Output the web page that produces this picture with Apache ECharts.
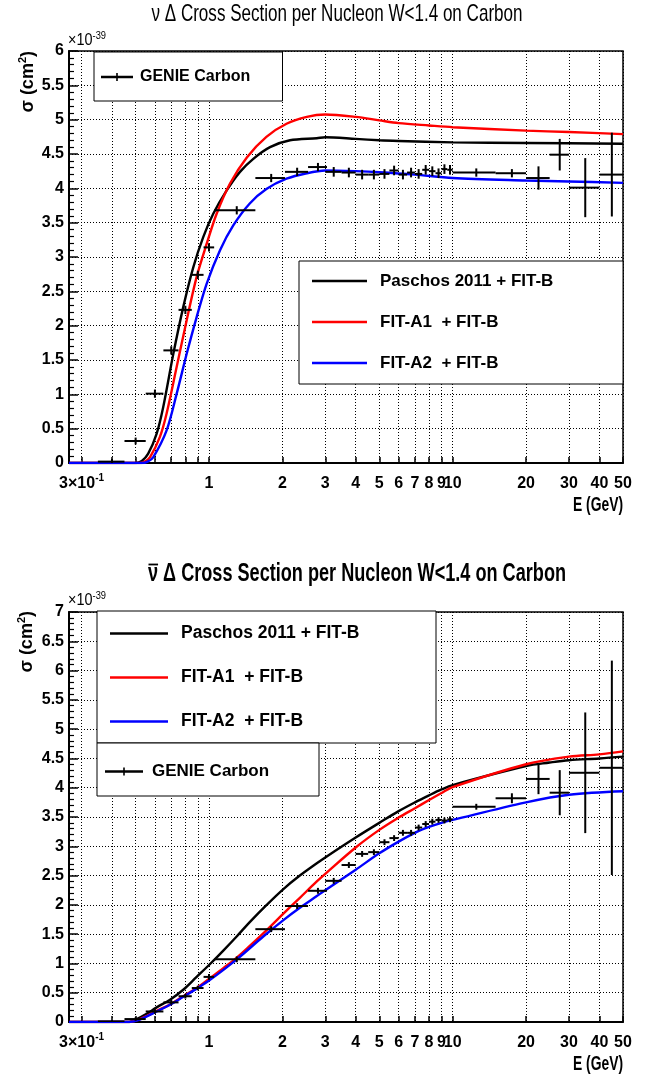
<!DOCTYPE html>
<html>
<head>
<meta charset="utf-8">
<script src="https://cdn.jsdelivr.net/npm/echarts@6/dist/echarts.min.js"></script>
<style>
  html, body { margin: 0; padding: 0; background: #fff; }
  #chart { width: 656px; height: 1077px; }
</style>
</head>
<body>
<div id="chart"></div>
<script>
// ---------- axis ticks ----------
const E_MIN = 0.2664, E_MAX = 50;
const xTickValues = [0.3, 0.4, 0.5, 0.6, 0.7, 0.8, 0.9, 1, 2, 3, 4, 5, 6, 7, 8, 9, 10, 20, 30, 40, 50];
const xLabelValues = [0.3, 1, 2, 3, 4, 5, 6, 7, 8, 9, 10, 20, 30, 40, 50];

// ---------- neutrino: model curves (E in GeV, sigma in 1e-39 cm^2) ----------
const nuPaschosE  = [0.2664, 0.5, 0.53, 0.563, 0.61, 0.649, 0.714, 0.784, 0.862, 0.947, 1.041, 1.182, 1.34, 1.52, 1.78, 2.15, 2.77, 3.0, 4.0, 5.0, 6.0, 10, 20, 50];
const nuPaschosXs = [0, 0, 0.03, 0.137, 0.428, 0.815, 1.59, 2.27, 2.85, 3.29, 3.63, 3.97, 4.24, 4.43, 4.60, 4.70, 4.73, 4.745, 4.72, 4.70, 4.69, 4.67, 4.66, 4.65];

const nuFitA1E  = [0.2664, 0.52, 0.545, 0.573, 0.629, 0.67, 0.737, 0.81, 0.89, 0.978, 1.075, 1.22, 1.43, 1.72, 2.08, 2.52, 3.0, 4.0, 5.0, 6.0, 8.0, 10, 20, 30, 50];
const nuFitA1Xs = [0, 0, 0.02, 0.087, 0.38, 0.72, 1.40, 2.08, 2.71, 3.19, 3.63, 4.07, 4.45, 4.75, 4.94, 5.04, 5.075, 5.04, 4.99, 4.95, 4.915, 4.89, 4.84, 4.82, 4.79];

const nuFitA2E  = [0.2664, 0.53, 0.56, 0.591, 0.67, 0.737, 0.81, 0.89, 0.978, 1.11, 1.258, 1.47, 1.72, 2.08, 2.52, 3.0, 4.0, 5.0, 7.0, 10, 20, 30, 50];
const nuFitA2Xs = [0, 0, 0.02, 0.087, 0.476, 1.01, 1.59, 2.125, 2.61, 3.10, 3.46, 3.78, 3.99, 4.14, 4.22, 4.26, 4.25, 4.235, 4.20, 4.15, 4.115, 4.10, 4.08];

// ---------- antineutrino: model curves ----------
const nbPaschosE  = [0.2664, 0.47, 0.505, 0.555, 0.61, 0.692, 0.784, 0.89, 1.01, 1.145, 1.299, 1.473, 1.725, 2.02, 2.36, 2.77, 3, 4, 5, 6, 7, 8, 9, 10, 20, 25, 30, 40, 50];
const nbPaschosXs = [0, 0, 0.05, 0.14, 0.25, 0.38, 0.55, 0.77, 0.99, 1.22, 1.46, 1.71, 2.0, 2.27, 2.50, 2.71, 2.81, 3.15, 3.40, 3.60, 3.75, 3.87, 3.97, 4.045, 4.37, 4.43, 4.47, 4.50, 4.53];

const nbFitA1E  = [0.2664, 0.47, 0.52, 0.61, 0.692, 0.784, 0.89, 1.01, 1.145, 1.3, 1.47, 1.725, 2.02, 2.36, 2.77, 3, 4, 5, 6, 7, 8, 9, 10, 20, 30, 40, 50];
const nbFitA1Xs = [0, 0, 0.05, 0.19, 0.30, 0.44, 0.58, 0.75, 0.92, 1.10, 1.30, 1.57, 1.85, 2.12, 2.40, 2.53, 2.98, 3.28, 3.49, 3.65, 3.79, 3.91, 4.01, 4.40, 4.53, 4.57, 4.62];

const nbFitA2E  = [0.2664, 0.47, 0.52, 0.61, 0.692, 0.784, 0.89, 1.01, 1.3, 1.67, 2.02, 2.36, 2.77, 3, 4, 5, 6, 7, 8, 9, 10, 20, 30, 50];
const nbFitA2Xs = [0, 0, 0.04, 0.18, 0.295, 0.43, 0.57, 0.72, 1.07, 1.46, 1.74, 1.95, 2.15, 2.25, 2.60, 2.88, 3.08, 3.23, 3.33, 3.40, 3.45, 3.75, 3.88, 3.94];

// ---------- GENIE Carbon histograms (bin centre, half width, value, error) ----------
const genieE = [0.4, 0.5, 0.6, 0.7, 0.8, 0.9, 1.0, 1.3, 1.8, 2.3, 2.8,
  3.25, 3.75, 4.25, 4.75, 5.25, 5.75, 6.25, 6.75, 7.25, 7.75, 8.25, 8.75, 9.25, 9.75,
  12.5, 17.5, 22.5, 27.5, 35, 45];
const genieHalfWidth = [0.05, 0.05, 0.05, 0.05, 0.05, 0.05, 0.05, 0.25, 0.25, 0.25, 0.25,
  0.25, 0.25, 0.25, 0.25, 0.25, 0.25, 0.25, 0.25, 0.25, 0.25, 0.25, 0.25, 0.25, 0.25,
  2.5, 2.5, 2.5, 2.5, 5, 5];
const nuGenieXs = [0.02, 0.32, 1.01, 1.64, 2.23, 2.74, 3.14, 3.68, 4.15, 4.24, 4.31,
  4.24, 4.23, 4.20, 4.20, 4.21, 4.26, 4.20, 4.23, 4.21, 4.27, 4.25, 4.22, 4.28, 4.27,
  4.23, 4.22, 4.15, 4.49, 4.01, 4.20];
const nuGenieErr = [0.04, 0.05, 0.06, 0.06, 0.06, 0.06, 0.06, 0.06, 0.06, 0.06, 0.06,
  0.07, 0.07, 0.07, 0.07, 0.07, 0.07, 0.07, 0.07, 0.07, 0.07, 0.07, 0.07, 0.07, 0.07,
  0.06, 0.06, 0.17, 0.23, 0.43, 0.61];
const nbGenieXs = [0.01, 0.05, 0.18, 0.335, 0.44, 0.58, 0.77, 1.07, 1.585, 1.98, 2.24,
  2.41, 2.68, 2.87, 2.90, 3.07, 3.14, 3.23, 3.23, 3.32, 3.38, 3.42, 3.45, 3.44, 3.46,
  3.675, 3.82, 4.15, 3.915, 4.255, 4.34];
const nbGenieErr = [0.02, 0.03, 0.04, 0.04, 0.04, 0.04, 0.05, 0.05, 0.05, 0.05, 0.05,
  0.05, 0.05, 0.05, 0.05, 0.05, 0.05, 0.05, 0.05, 0.05, 0.05, 0.05, 0.05, 0.05, 0.05,
  0.05, 0.085, 0.26, 0.385, 1.03, 1.83];

// ---------- styling ----------
const FONT = '"Liberation Sans", Arial, Helvetica, sans-serif';
const BLACK = '#000000', RED = '#ff0000', BLUE = '#0000ff';
const NAME_PASCHOS = 'Paschos 2011 + FIT-B';
const NAME_A1 = 'FIT-A1  + FIT-B';
const NAME_A2 = 'FIT-A2  + FIT-B';
const NAME_GENIE = 'GENIE Carbon';
const TITLE_NU = 'ν Δ Cross Section per Nucleon W<1.4 on Carbon';
const TITLE_NUBAR = 'ν Δ Cross Section per Nucleon W<1.4 on Carbon';

const measureCtx = document.createElement('canvas').getContext('2d');
function textWidth(text, font) { measureCtx.font = font; return measureCtx.measureText(text).width; }
function boldFont(size) { return 'bold ' + size + 'px ' + FONT; }

function pairs(xs, ys) { return xs.map((x, i) => [x, ys[i]]); }
function genieData(ys, errs) {
  return genieE.map((e, i) => [e, ys[i], genieHalfWidth[i], errs[i]]);
}

function xLabelFormatter(v) {
  if (Math.abs(v - 0.3) < 1e-6) return '{m|3×10}{s|-1}';
  return '{m|' + Math.round(v) + '}';
}

function xAxisFor(gridIndex) {
  return {
    type: 'log', logBase: 10, gridIndex, min: E_MIN, max: E_MAX,
    axisLine: { show: true, onZero: false, lineStyle: { color: BLACK, width: 2 } },
    axisTick: { show: true, inside: true, length: 6, customValues: xTickValues,
                lineStyle: { color: BLACK, width: 1.5 } },
    minorTick: { show: false },
    axisLabel: {
      show: true, customValues: xLabelValues, margin: 10, color: BLACK,
      formatter: xLabelFormatter,
      rich: {
        m: { fontFamily: FONT, fontWeight: 'bold', fontSize: 16, lineHeight: 19, color: BLACK, verticalAlign: 'bottom' },
        s: { fontFamily: FONT, fontWeight: 'bold', fontSize: 10, lineHeight: 10, color: BLACK, verticalAlign: 'top' }
      }
    },
    splitLine: { show: true, lineStyle: { color: BLACK, width: 1, type: [1, 2] } },
    minorSplitLine: { show: false }
  };
}

function yAxisFor(gridIndex, max) {
  return {
    type: 'value', gridIndex, min: 0, max, interval: 0.5,
    axisLine: { show: true, onZero: false, lineStyle: { color: BLACK, width: 2 } },
    axisTick: { show: true, inside: true, length: 9, lineStyle: { color: BLACK, width: 1.5 } },
    minorTick: { show: true, splitNumber: 5, length: 5, lineStyle: { color: BLACK, width: 1.2 } },
    axisLabel: { margin: 5, color: BLACK, fontFamily: FONT, fontWeight: 'bold', fontSize: 16 },
    splitLine: { show: true, lineStyle: { color: BLACK, width: 1, type: [1, 2] } }
  };
}

function curve(name, color, xs, ys, axisIndex, smooth) {
  return {
    name, type: 'line', xAxisIndex: axisIndex, yAxisIndex: axisIndex,
    data: pairs(xs, ys), showSymbol: false, symbol: 'none', smooth,
    color, lineStyle: { color, width: 2.4 }, itemStyle: { color },
    clip: true, z: 3
  };
}

function renderErrorBar(params, api) {
  const e = api.value(0), v = api.value(1), dx = api.value(2), dy = api.value(3);
  const left = api.coord([e - dx, v]), right = api.coord([e + dx, v]);
  const low = api.coord([e, Math.max(v - dy, 0)]), high = api.coord([e, v + dy]);
  const style = { stroke: BLACK, lineWidth: 2 };
  return {
    type: 'group',
    children: [
      { type: 'line', shape: { x1: left[0], y1: left[1], x2: right[0], y2: right[1] }, style },
      { type: 'line', shape: { x1: low[0], y1: low[1], x2: high[0], y2: high[1] }, style }
    ]
  };
}

function genieSeries(ys, errs, axisIndex) {
  return {
    name: NAME_GENIE, type: 'custom', xAxisIndex: axisIndex, yAxisIndex: axisIndex,
    data: genieData(ys, errs), renderItem: renderErrorBar,
    encode: { x: 0, y: 1 }, itemStyle: { color: BLACK }, clip: true, z: 5
  };
}

// legend box: box = [left, top, width]; right padding fills the box to its width
function curveLegend(box, fontSize, lineH, gap, iconW, padTop, padBottom, padLeft, textGap) {
  const w = textWidth(NAME_PASCHOS, boldFont(fontSize));
  const padRight = Math.max(4, box[2] - padLeft - iconW - textGap - w);
  return {
    orient: 'vertical', left: box[0], top: box[1], itemGap: gap, itemWidth: iconW, itemHeight: 2.6,
    padding: [padTop, padRight, padBottom, padLeft],
    backgroundColor: '#fff', borderColor: BLACK, borderWidth: 1,
    icon: 'rect', selectedMode: false,
    data: [NAME_PASCHOS, NAME_A1, NAME_A2],
    textStyle: { fontFamily: FONT, fontWeight: 'bold', fontSize, lineHeight: lineH, color: BLACK,
                 padding: [0, 0, 0, textGap - 5] }
  };
}
function genieLegend(box, fontSize, lineH, iconW, padTop, padBottom, padLeft, textGap) {
  const w = textWidth(NAME_GENIE, boldFont(fontSize));
  const padRight = Math.max(4, box[2] - padLeft - iconW - textGap - w);
  const h = 8, mid = h / 2;
  const icon = 'path://M0,' + (mid - 1.2) + 'H' + iconW + 'V' + (mid + 1.2) + 'H0Z M' +
               (iconW / 2 - 0.8) + ',0H' + (iconW / 2 + 0.8) + 'V' + h + 'H' + (iconW / 2 - 0.8) + 'Z';
  return {
    orient: 'vertical', left: box[0], top: box[1], itemWidth: iconW, itemHeight: h,
    padding: [padTop, padRight, padBottom, padLeft],
    backgroundColor: '#fff', borderColor: BLACK, borderWidth: 1,
    icon, selectedMode: false, data: [NAME_GENIE],
    textStyle: { fontFamily: FONT, fontWeight: 'bold', fontSize, lineHeight: lineH, color: BLACK,
                 padding: [0, 0, 0, textGap - 5] }
  };
}

// condensed text: a font size for the letter height, squeezed to the wanted width
function squeezedText(x, y, text, size, weight, targetWidth, align) {
  const font = weight + ' ' + size + 'px ' + FONT;
  const sx = targetWidth / textWidth(text, font);
  return {
    type: 'text', x, y, scaleX: sx, z: 10,
    style: { text, align: align || 'center', verticalAlign: 'middle', font, fill: BLACK }
  };
}
function superscriptText(x, y, base, sup) {
  return {
    type: 'text', x, y, z: 10, scaleX: 0.85,
    style: {
      text: '{a|' + base + '}{b|' + sup + '}', align: 'left', verticalAlign: 'bottom',
      rich: {
        a: { fontFamily: FONT, fontSize: 17, lineHeight: 19, fill: BLACK, verticalAlign: 'bottom' },
        b: { fontFamily: FONT, fontSize: 11, lineHeight: 11, fill: BLACK, verticalAlign: 'top' }
      }
    }
  };
}
function sigmaTitle(x, y) {
  return {
    type: 'text', x, y, rotation: Math.PI / 2, z: 10,
    style: {
      text: '{a|σ (cm}{b|2}{a|)}', align: 'right', verticalAlign: 'middle',
      rich: {
        a: { fontFamily: FONT, fontWeight: 'bold', fontSize: 18, lineHeight: 20, fill: BLACK, verticalAlign: 'bottom' },
        b: { fontFamily: FONT, fontWeight: 'bold', fontSize: 11, lineHeight: 11, fill: BLACK, verticalAlign: 'top' }
      }
    }
  };
}

// antineutrino title: bold, with a bar drawn over the leading ν
const nubarTitleSize = 25, nubarTitleWidth = 418, nubarTitleCenter = 357;
const nubarScale = nubarTitleWidth / textWidth(TITLE_NUBAR, boldFont(nubarTitleSize));
const nubarStart = nubarTitleCenter - nubarTitleWidth / 2;
const nuGlyphW = textWidth('ν', boldFont(nubarTitleSize)) * nubarScale;

const option = {
  animation: false,
  backgroundColor: '#ffffff',
  grid: [
    { left: 69, right: 33, top: 51, height: 412, show: true, borderColor: BLACK, borderWidth: 1.5, containLabel: false, outerBoundsMode: 'none' },
    { left: 69, right: 33, top: 612, height: 410, show: true, borderColor: BLACK, borderWidth: 1.5, containLabel: false, outerBoundsMode: 'none' }
  ],
  xAxis: [xAxisFor(0), xAxisFor(1)],
  yAxis: [yAxisFor(0, 6), yAxisFor(1, 7)],
  legend: [
    genieLegend([94, 52, 188.5], 16, 20, 32, 15, 14, 7, 7),
    curveLegend([299, 261, 324], 17, 20, 21, 55, 10, 11, 13, 13),
    curveLegend([97, 611, 339], 17.5, 21, 23, 58, 12, 11, 13, 13),
    genieLegend([97, 743, 222], 17, 21, 38, 18, 14, 8, 9)
  ],
  series: [
    curve(NAME_PASCHOS, BLACK, nuPaschosE, nuPaschosXs, 0, 0.3),
    curve(NAME_A1, RED, nuFitA1E, nuFitA1Xs, 0, 0.3),
    curve(NAME_A2, BLUE, nuFitA2E, nuFitA2Xs, 0, 0.3),
    genieSeries(nuGenieXs, nuGenieErr, 0),
    curve(NAME_PASCHOS, BLACK, nbPaschosE, nbPaschosXs, 1, 0.35),
    curve(NAME_A1, RED, nbFitA1E, nbFitA1Xs, 1, 0.35),
    curve(NAME_A2, BLUE, nbFitA2E, nbFitA2Xs, 1, 0.35),
    genieSeries(nbGenieXs, nbGenieErr, 1)
  ],
  graphic: [
    squeezedText(337, 14, TITLE_NU, 24, 'normal', 371),
    {
      type: 'text', x: nubarStart, y: 574, scaleX: nubarScale, z: 10,
      style: { text: TITLE_NUBAR, align: 'left', verticalAlign: 'middle', font: boldFont(nubarTitleSize), fill: BLACK }
    },
    {
      type: 'line', z: 11,
      shape: { x1: nubarStart + 0.5, y1: 564.5, x2: nubarStart + nuGlyphW, y2: 564.5 },
      style: { stroke: BLACK, lineWidth: 1.8 }
    },
    superscriptText(68, 49, '×10', '-39'),
    superscriptText(68, 609, '×10', '-39'),
    sigmaTitle(27, 51),
    sigmaTitle(26, 611),
    squeezedText(623, 505, 'E (GeV)', 20, 'bold', 50, 'right'),
    squeezedText(623, 1064, 'E (GeV)', 20, 'bold', 50, 'right')
  ]
};

const chart = echarts.init(document.getElementById('chart'), null, { renderer: 'canvas' });
chart.setOption(option);
</script>
</body>
</html>
